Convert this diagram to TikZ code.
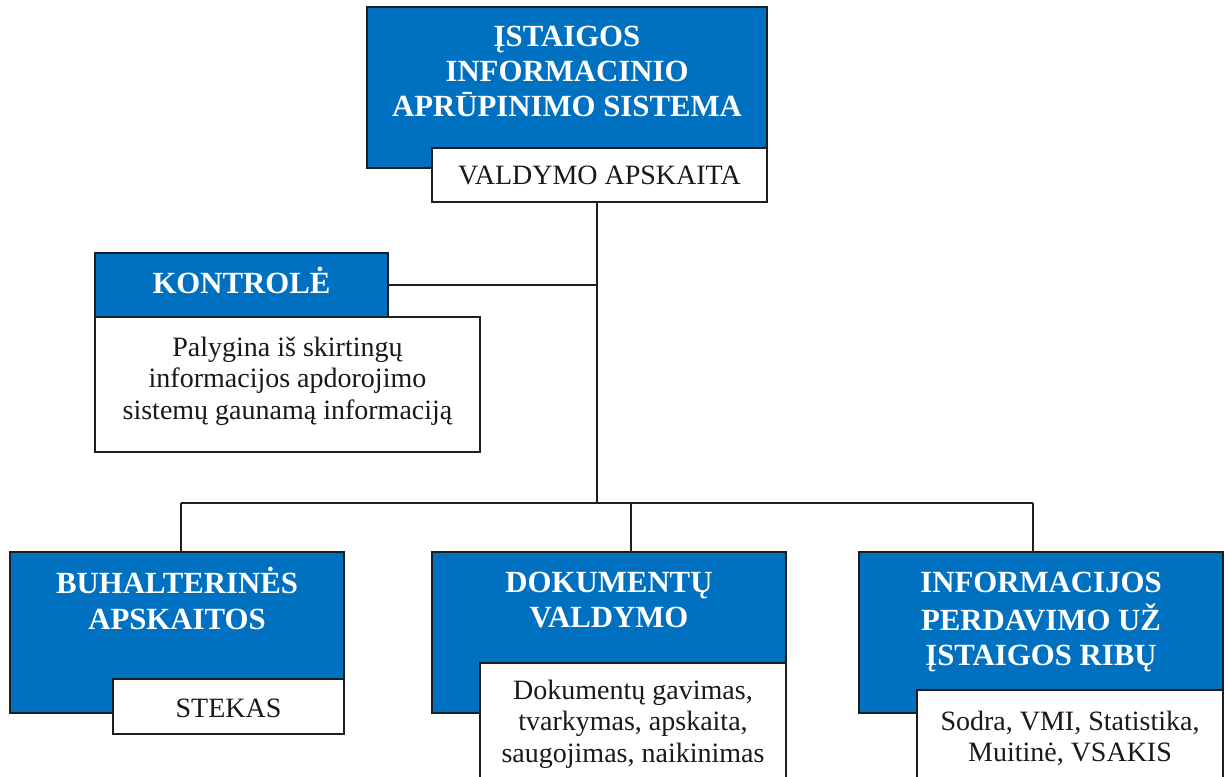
\documentclass[tikz,border=0pt]{standalone}
\usepackage{fontspec}
\setmainfont{Liberation Serif}
\definecolor{boxblue}{RGB}{0,112,192}
\definecolor{edge}{RGB}{30,30,30}
\begin{document}
\begin{tikzpicture}[x=1pt,y=-1pt,
  blk/.style={draw=edge, line width=1.4pt, fill=boxblue, inner sep=0pt, outer sep=0pt, anchor=north west},
  wht/.style={draw=edge, line width=1.4pt, fill=white, inner sep=0pt, outer sep=0pt, anchor=north west},
  ttl/.style={text=white, font=\fontsize{30.8}{35.3}\selectfont\bfseries, align=center, inner sep=0pt},
  txt/.style={text=black!90, font=\fontsize{28}{31.5}\selectfont, align=center, inner sep=0pt},
  conn/.style={draw=edge, line width=1.3pt}]
\useasboundingbox (0,0) rectangle (1225,776);
\clip (0,0) rectangle (1225,776);
\fill[white] (0,0) rectangle (1225,776);

% connector points
\coordinate (trunk) at (597,503);
\coordinate (busL) at (181,503);
\coordinate (busM) at (631,503);
\coordinate (busR) at (1033,503);

% top
\node[blk, minimum width=400pt, minimum height=161pt] (tb) at (367,7) {};
\node[wht, minimum width=335pt, minimum height=54pt] (tw) at (432,148) {};
\node[ttl, anchor=north] (tbt) at (567,21.3) {\strut ĮSTAIGOS\\\strut INFORMACINIO\\\strut APRŪPINIMO SISTEMA};
\node[txt, anchor=base] (twt) at (599.5,184) {VALDYMO APSKAITA};

% kontrole
\node[blk, minimum width=293pt, minimum height=64pt] (kb) at (95,253) {};
\node[wht, minimum width=385pt, minimum height=135pt] (kw) at (95,317) {};
\node[ttl, anchor=base] (kbt) at (241.5,293) {KONTROLĖ};
\node[txt, anchor=north] (kwt) at (287.5,334) {\strut Palygina iš skirtingų\\\strut informacijos apdorojimo\\\strut sistemų gaunamą informaciją};

% bottom row
\node[blk, minimum width=334pt, minimum height=161pt] (bb) at (10,552) {};
\node[wht, minimum width=231pt, minimum height=55pt] (bw) at (113,679) {};
\node[ttl, anchor=north] (bbt) at (177,567.3) {\strut BUHALTERINĖS\\\strut APSKAITOS};
\node[txt, anchor=base] (bwt) at (228.5,717) {STEKAS};

\node[blk, minimum width=354pt, minimum height=161pt] (db) at (432,552) {};
\node[wht, minimum width=306pt, minimum height=130pt] (dw) at (480,663) {};
\node[ttl, anchor=north] (dbt) at (609,567.3) {\strut DOKUMENTŲ\\\strut VALDYMO};
\node[txt, anchor=north] (dwt) at (633,677) {\strut Dokumentų gavimas,\\\strut tvarkymas, apskaita,\\\strut saugojimas, naikinimas};

\node[blk, minimum width=364pt, minimum height=161pt] (ib) at (859,552) {};
\node[wht, minimum width=306pt, minimum height=100pt] (iw) at (917,690) {};
\node[ttl, anchor=north] (ibt) at (1041,567.3) {\strut INFORMACIJOS\\\strut PERDAVIMO UŽ\\\strut ĮSTAIGOS RIBŲ};
\node[txt, anchor=north] (iwt) at (1070,708) {\strut Sodra, VMI, Statistika,\\\strut Muitinė, VSAKIS};

% connectors
\draw[conn] (tw.south -| trunk) -- (trunk);
\draw[conn] (kb.east) -- (kb.east -| trunk);
\draw[conn] (busL) -- (busR);
\draw[conn] (busL) -- (busL |- bb.north);
\draw[conn] (busM) -- (busM |- db.north);
\draw[conn] (busR) -- (busR |- ib.north);
\end{tikzpicture}
\end{document}
